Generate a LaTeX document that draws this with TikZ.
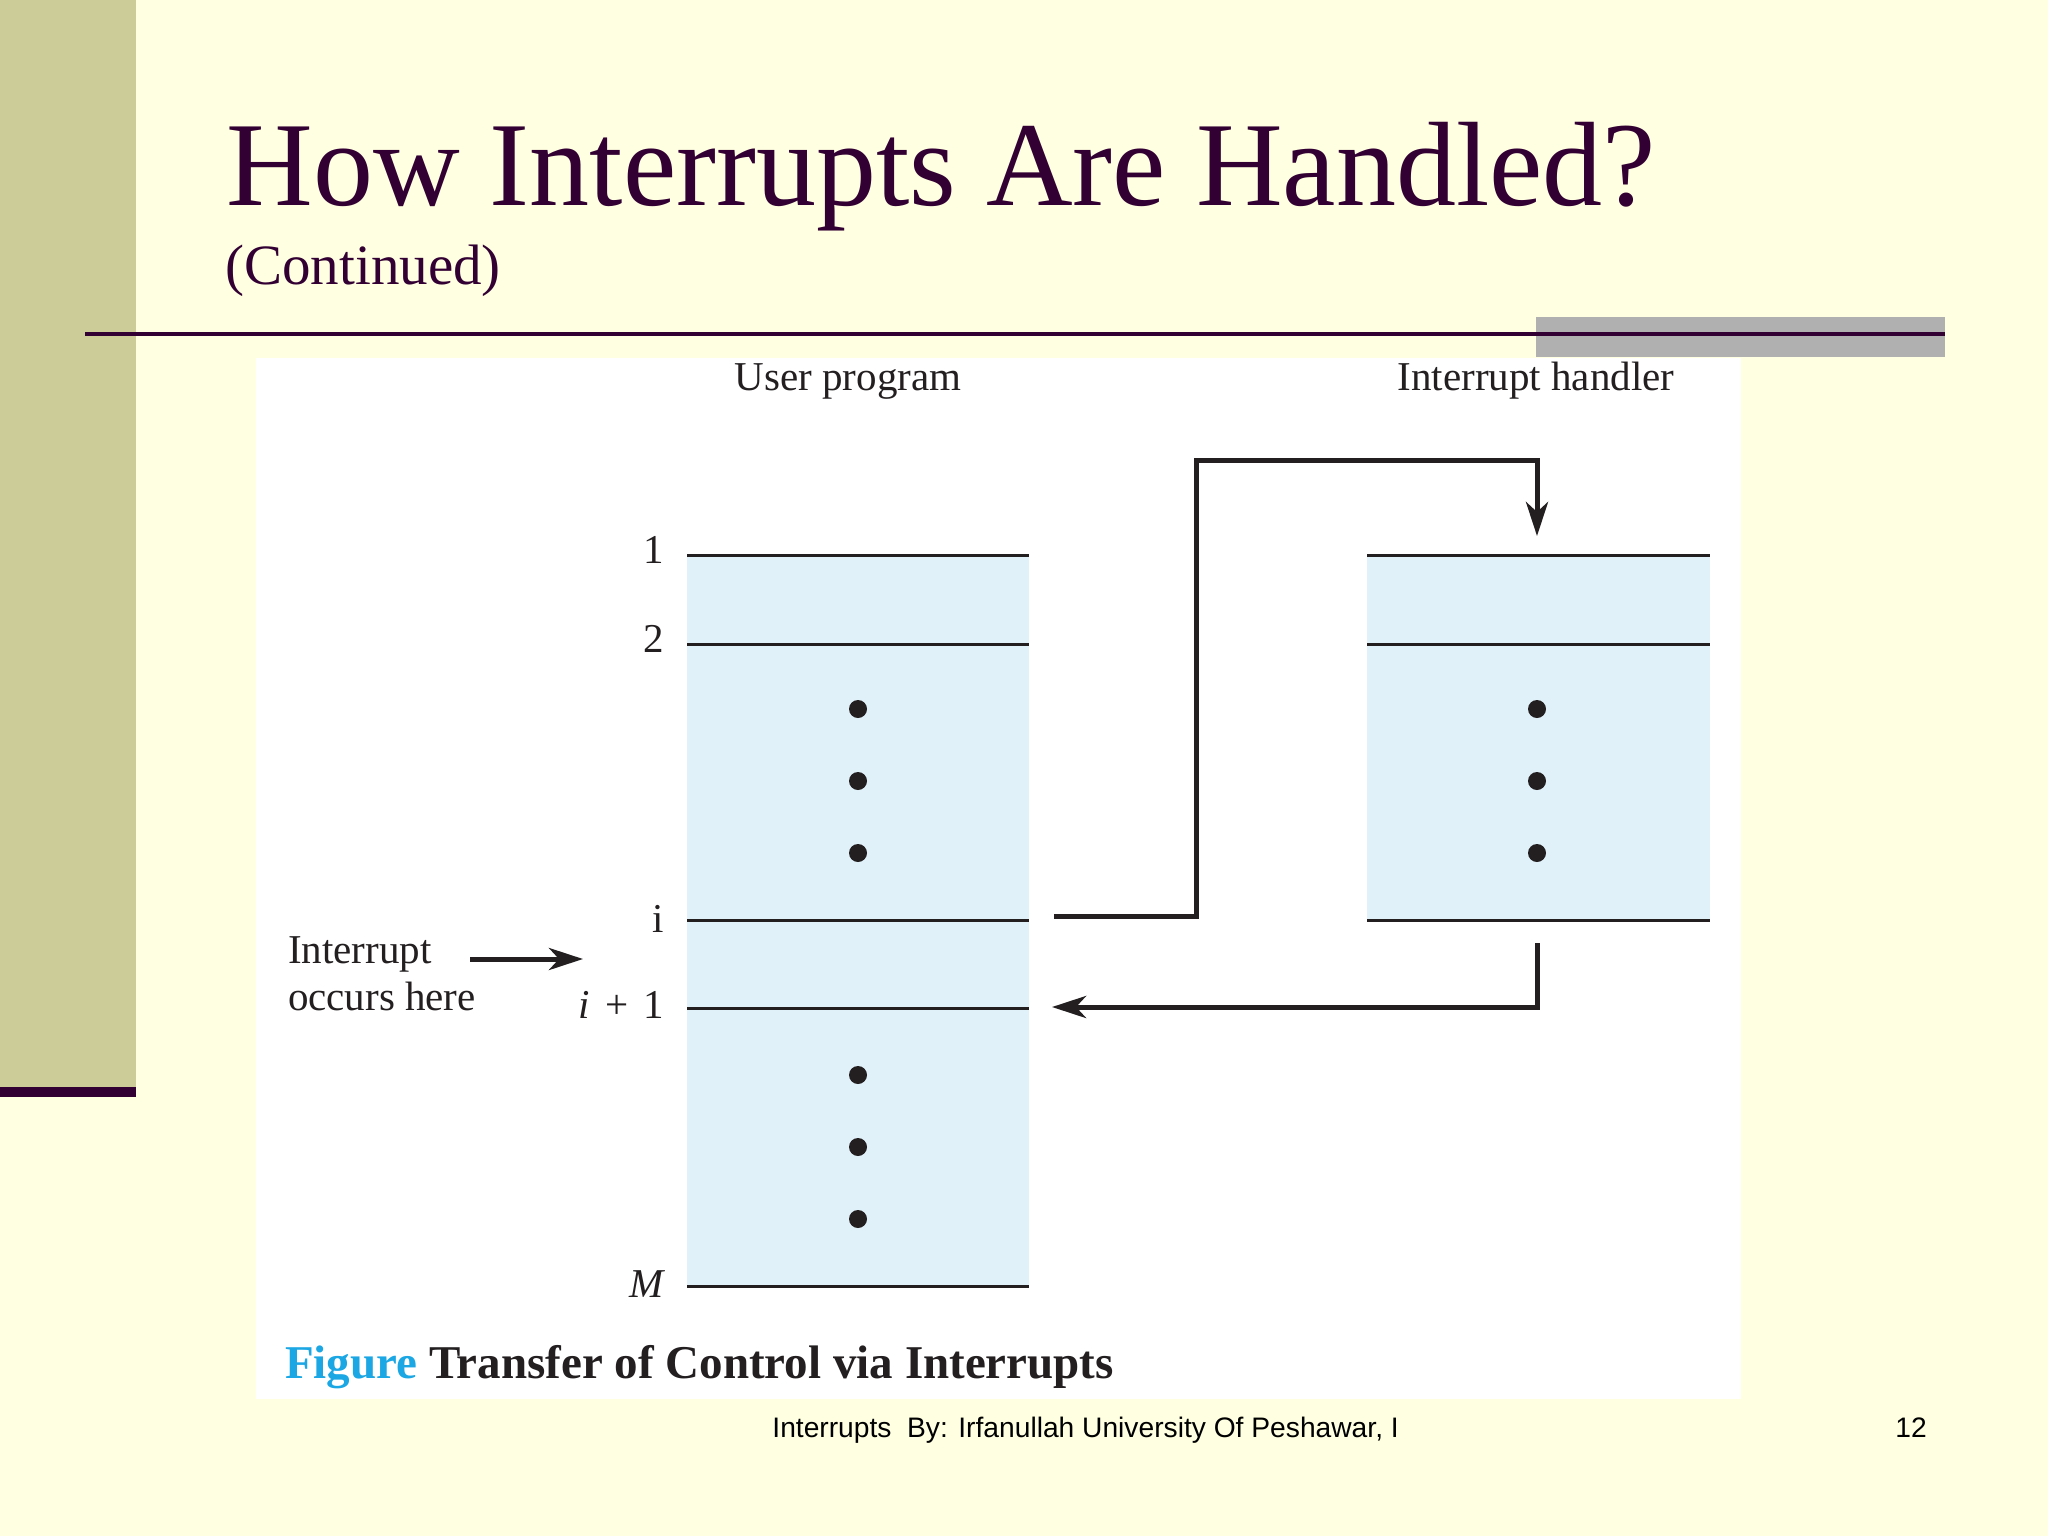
\documentclass[tikz,border=0pt]{standalone}
\usepackage{fontspec}
\setmainfont{Liberation Serif}
\newfontfamily\footfont{Liberation Sans}
\usetikzlibrary{arrows.meta}
\definecolor{bgc}{HTML}{FFFFE1}
\definecolor{barc}{HTML}{CCCC99}
\definecolor{purp}{HTML}{330033}
\definecolor{grayc}{HTML}{B0B0B0}
\definecolor{boxc}{HTML}{E1F1FA}
\definecolor{ink}{HTML}{231F20}
\definecolor{figc}{HTML}{1BA6E4}
\tikzset{
  txt/.style={inner sep=0pt, outer sep=0pt, text=ink},
  lbl/.style={txt, font=\fontsize{20.5}{24}\selectfont},
  sep/.style={line width=1.5pt, draw=ink},
  conn/.style={line width=2.5pt, draw=ink, line join=miter,
    -{Stealth[length=17pt,width=11pt,inset=5pt]}},
  dotc/.style={fill=ink},
}
\begin{document}
\begin{tikzpicture}[x=0.5pt,y=-0.5pt]
\useasboundingbox (0,0) rectangle (2048,1536);
% background
\fill[bgc] (0,0) rectangle (2048,1536);
\fill[barc] (0,0) rectangle (136,1087);
\fill[purp] (0,1087) rectangle (136,1097);
\fill[grayc] (1536,317) rectangle (1945,357);
\draw[purp, line width=2pt] (85,334) -- (1945,334);
% title
\node[inner sep=0pt, anchor=base west, text=purp, font=\fontsize{60}{64}\selectfont] (title) at (226,205) {How Interrupts Are Handled?};
\node[inner sep=0pt, anchor=base west, text=purp, font=\fontsize{28.5}{32}\selectfont] (subtitle) at (225,284) {(Continued)};
% white panel
\fill[white] (256,358) rectangle (1741,1399);
% column headings
\node[lbl, anchor=base] (userlbl) at (848,390) {User program};
\node[lbl, anchor=base] (handlerlbl) at (1536,390) {Interrupt handler};
% boxes
\fill[boxc] (687,555) rectangle (1029,1286);
\fill[boxc] (1367,555) rectangle (1710,920);
\foreach \yy in {555,644,920,1008,1286} \draw[sep] (687,\yy) -- (1029,\yy);
\foreach \yy in {555,644,920} \draw[sep] (1367,\yy) -- (1710,\yy);
% dots
\foreach \yy in {709,781,853,1075,1147,1219} \fill[dotc] (858,\yy) circle (4.5pt);
\foreach \yy in {709,781,853} \fill[dotc] (1537,\yy) circle (4.5pt);
% row labels
\node[lbl, anchor=base east] (l1) at (664,563) {1};
\node[lbl, anchor=base east] (l2) at (664,652) {2};
\node[lbl, anchor=base east] (li) at (664,932) {i};
\node[lbl, anchor=base east] (li1) at (664,1018) {\textit{i}\hspace{7.5pt}+\hspace{7.5pt}1};
\node[lbl, anchor=base east] (lM) at (666,1297) {\textit{M}};
% interrupt label
\node[lbl, anchor=base west] (int1) at (288,963) {Interrupt};
\node[lbl, anchor=base west] (int2) at (288,1010) {occurs here};
\coordinate (ia) at (470,959);
\coordinate (ib) at (583,959);
\draw[conn] (ia) -- (ib);
% transfer connectors
\coordinate (outA) at (1054,916);
\coordinate (outB) at (1196,916);
\coordinate (outC) at (1196,460);
\coordinate (outD) at (1537,460);
\coordinate (outE) at (1537,536);
\draw[conn] (outA) -- (outB) -- (outC) -- (outD) -- (outE);
\coordinate (retA) at (1537,943);
\coordinate (retB) at (1537,1007);
\coordinate (retC) at (1052,1007);
\draw[conn] (retA) -- (retB) -- (retC);
% caption
\node[txt, anchor=base west, font=\bfseries\fontsize{23.5}{27}\selectfont] (caption) at (285,1378) {\textcolor{figc}{Figure} Transfer of Control via Interrupts};
% footer
\node[inner sep=0pt, anchor=base west, font=\footfont\fontsize{14.1}{17}\selectfont] (footer) at (772,1437) {Interrupts\ \ By: Irfanullah University Of Peshawar, I};
\node[inner sep=0pt, anchor=base west, font=\footfont\fontsize{14.1}{17}\selectfont] (pagenum) at (1895,1437) {12};
\end{tikzpicture}
\end{document}
